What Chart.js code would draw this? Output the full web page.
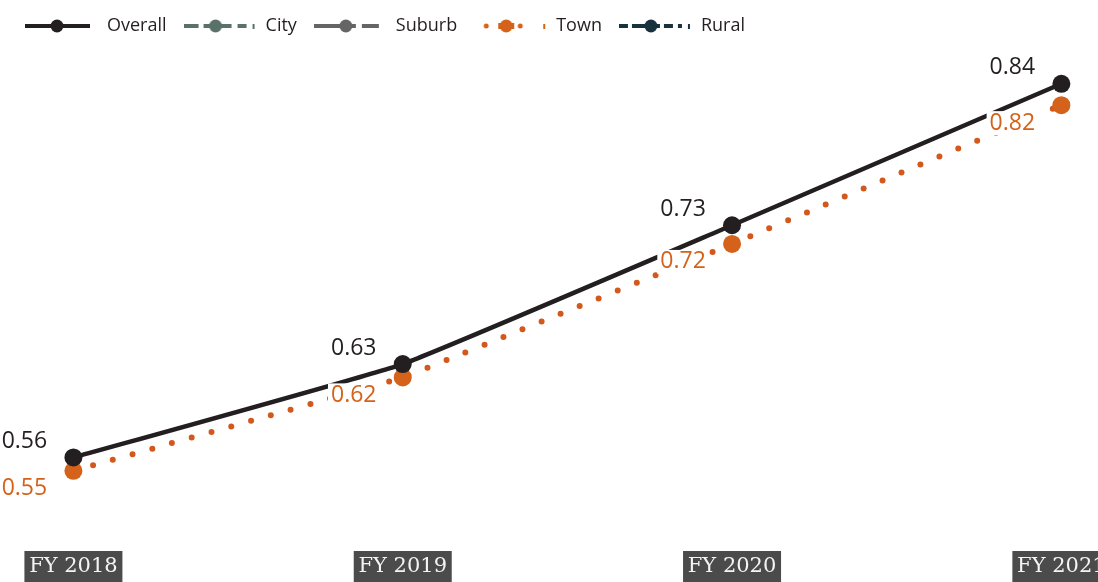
<!DOCTYPE html>
<html>
<head>
<meta charset="utf-8">
<script src="https://cdn.jsdelivr.net/npm/chart.js@4"></script>
<style>
  html, body { margin: 0; padding: 0; background: #ffffff; }
  #chart { display: block; }
</style>
</head>
<body>
<canvas id="chart" width="1098" height="582"></canvas>
<script>
// data
const years = ["FY 2018", "FY 2019", "FY 2020", "FY 2021"];
const overallValues = [0.56, 0.63, 0.734, 0.84];
const cityValues = [];
const suburbValues = [];
const townValues = [0.55, 0.62, 0.72, 0.824];
const ruralValues = [];
const seriesNames = ["Overall", "City", "Suburb", "Town", "Rural"];
const seriesColors = ["#231f20", "#5a716a", "#656565", "#d4621a", "#17313d"];

function toPoints(values) {
    return values.map((v, i) => ({ x: i, y: v }));
}

// little line + dot sample for each legend entry
function legendSample(idx) {
    const c = document.createElement("canvas");
    c.width = 73;
    c.height = 20;
    const g = c.getContext("2d");
    const col = seriesColors[idx];
    g.strokeStyle = col;
    g.fillStyle = col;
    g.lineWidth = 4;
    if (idx === 3) {
        // town: a few dots and a tick
        [12, 46].forEach(x => { g.beginPath(); g.arc(x, 10, 2.5, 0, Math.PI * 2); g.fill(); });
        g.fillRect(24, 7, 16, 6);
        g.fillRect(69, 8, 2, 5);
    } else {
        if (idx === 1) g.setLineDash([15, 5, 28, 6, 10, 6]);
        if (idx === 2) g.setLineDash([42, 6, 40]);
        if (idx === 4) g.setLineDash([9, 4, 28, 4, 9, 5]);
        g.beginPath();
        g.moveTo(0, 10);
        g.lineTo(idx === 1 || idx === 4 ? 63 : 65, 10);
        g.stroke();
        if (idx === 1 || idx === 4) g.fillRect(69, 8, 2, 5);
    }
    g.beginPath();
    g.arc(32, 10, 6.5, 0, Math.PI * 2);
    g.fill();
    return c;
}

// white-backed value labels next to the points
const valueLabels = {
    id: "valueLabels",
    afterDatasetsDraw(chart) {
        const ctx = chart.ctx;
        ctx.save();
        ctx.font = "23px 'Open Sans'";
        ctx.textAlign = "center";
        ctx.textBaseline = "middle";
        [[0, -16, "#231f20"], [3, 18, "#d4621a"]].forEach(([di, dy, col]) => {
            const ds = chart.data.datasets[di];
            chart.getDatasetMeta(di).data.forEach((pt, i) => {
                const txt = ds.data[i].y.toFixed(2);
                const x = pt.x - 49, y = pt.y + dy;
                const w = ctx.measureText(txt).width + 6;
                ctx.fillStyle = "#ffffff";
                ctx.fillRect(x - w / 2, y - 12, w, 24);
                ctx.fillStyle = col;
                ctx.fillText(txt, x, y);
            });
        });
        ctx.restore();
    }
};

// dark boxes behind the year tick labels
const yearBoxes = {
    id: "yearBoxes",
    beforeDraw(chart) {
        const xs = chart.scales.x;
        const ctx = chart.ctx;
        ctx.save();
        ctx.fillStyle = "#4b4b4b";
        xs.ticks.forEach(t => {
            const cx = xs.getPixelForValue(t.value);
            ctx.fillRect(cx - 49, 551, 98, 40);
        });
        ctx.restore();
    }
};

const ctx = document.getElementById("chart").getContext("2d");
new Chart(ctx, {
    type: "line",
    data: {
        datasets: [
            {
                label: "Overall",
                data: toPoints(overallValues),
                borderColor: "#231f20",
                backgroundColor: "#231f20",
                borderWidth: 4.5,
                pointRadius: 9,
                pointBorderWidth: 0,
                tension: 0.1
            },
            {
                label: "City",
                data: toPoints(cityValues),
                borderColor: seriesColors[1],
                backgroundColor: seriesColors[1],
                borderDash: [16, 6]
            },
            {
                label: "Suburb",
                data: toPoints(suburbValues),
                borderColor: seriesColors[2],
                backgroundColor: seriesColors[2]
            },
            {
                label: "Town",
                data: toPoints(townValues),
                borderColor: "#d2581c",
                backgroundColor: "#d4621a",
                borderWidth: 6,
                borderDash: [0, 20.5],
                borderCapStyle: "round",
                pointRadius: 9,
                pointBorderWidth: 0,
                tension: 0.05
            },
            {
                label: "Rural",
                data: toPoints(ruralValues),
                borderColor: seriesColors[4],
                backgroundColor: seriesColors[4],
                borderDash: [9, 4]
            }
        ]
    },
    options: {
        responsive: false,
        animation: false,
        devicePixelRatio: 1,
        layout: { padding: { left: 8, right: 0, top: 0, bottom: 0 } },
        plugins: {
            legend: {
                display: true,
                position: "top",
                align: "start",
                labels: {
                    usePointStyle: true,
                    pointStyleWidth: 73,
                    padding: 17,
                    color: "#231f20",
                    font: { family: "'Open Sans'", size: 18 },
                    generateLabels: () => seriesNames.map((name, i) => ({
                        text: name,
                        pointStyle: legendSample(i),
                        fillStyle: seriesColors[i],
                        strokeStyle: seriesColors[i],
                        lineWidth: 0,
                        hidden: false,
                        datasetIndex: i,
                        fontColor: "#231f20"
                    }))
                }
            },
            tooltip: { enabled: false }
        },
        scales: {
            x: {
                type: "linear",
                min: -0.1956,
                max: 3.0839,
                grid: { display: false, drawTicks: false },
                border: { display: false },
                afterBuildTicks: s => { s.ticks = years.map((_, i) => ({ value: i })); },
                afterFit: s => { s.paddingLeft = 0; s.paddingRight = 0; },
                ticks: {
                    autoSkip: false,
                    maxRotation: 0,
                    padding: 3,
                    color: "#f4f4f4",
                    font: { family: "'DejaVu Serif'", size: 21 },
                    callback: v => years[v]
                }
            },
            y: {
                display: false,
                min: 0.49007,
                max: 0.86905
            }
        }
    },
    plugins: [yearBoxes, valueLabels]
});
</script>
</body>
</html>
